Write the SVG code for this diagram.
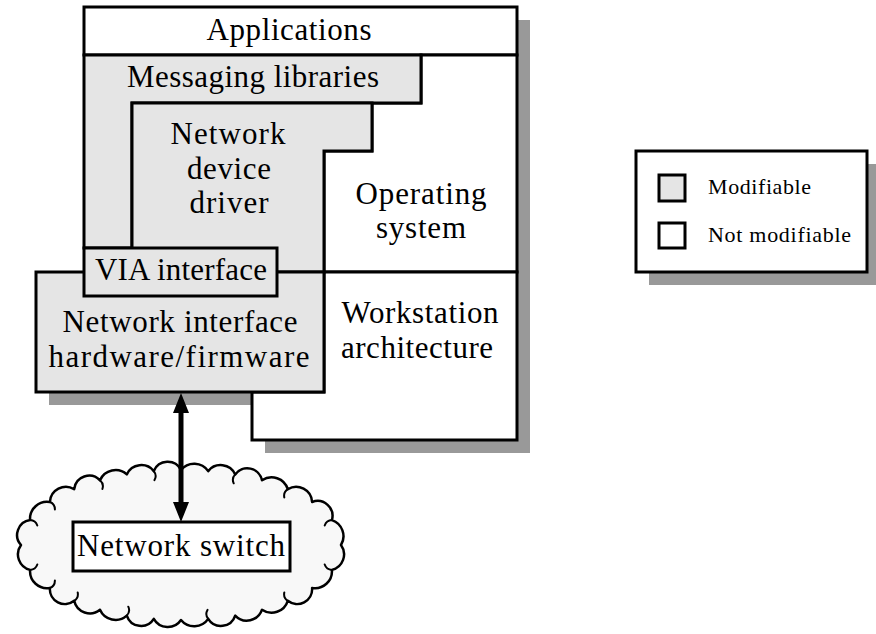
<svg xmlns="http://www.w3.org/2000/svg" width="876" height="634" viewBox="0 0 876 634">
  <style>
    .shadow { fill: #999999; stroke: none; }
    .fixed { fill: #ffffff; stroke: #000000; stroke-width: 3; stroke-linejoin: miter; }
    .mod { fill: #e5e5e5; stroke: #000000; stroke-width: 3; stroke-linejoin: miter; }
    .lbl { font-family: "Liberation Serif", "Times New Roman", serif; font-size: 31px; text-anchor: middle; fill: #000000; }
    .key { font-family: "Liberation Serif", "Times New Roman", serif; font-size: 22px; fill: #000000; }
    .link { stroke: #000000; stroke-width: 5; fill: none; }
    .cloud { fill: #f8f8f8; stroke: #000000; stroke-width: 2.5; stroke-linejoin: round; }
    .curl { fill: none; stroke: #000000; stroke-width: 2; stroke-linecap: round; }
  </style>
  <defs>
    <marker id="head" viewBox="0 0 20 16" refX="13" refY="8" markerWidth="20" markerHeight="16" markerUnits="userSpaceOnUse" orient="auto-start-reverse">
      <path d="M0,0 L20,8 L0,16 z" fill="#000000"/>
    </marker>
  </defs>

  <!-- drop shadow of the workstation stack -->
  <polygon class="shadow" points="97,20 530,20 530,453 265,453 265,405 49,405 49,285 97,285"/>

  <g id="applications">
    <rect class="fixed" x="84" y="7" width="433" height="48"/>
    <text class="lbl" x="289" y="40" textLength="165" lengthAdjust="spacing">Applications</text>
  </g>

  <g id="operating-system">
    <polygon class="fixed" points="421,55 517,55 517,272 324,272 324,151 372,151 372,103 421,103"/>
    <text class="lbl" x="421" y="204" textLength="131" lengthAdjust="spacing">Operating</text>
    <text class="lbl" x="421" y="238" textLength="90" lengthAdjust="spacing">system</text>
  </g>

  <g id="workstation-architecture">
    <polygon class="fixed" points="324,272 517,272 517,440 252,440 252,392 324,392"/>
    <text class="lbl" x="420" y="323" textLength="157" lengthAdjust="spacing">Workstation</text>
    <text class="lbl" x="417" y="358" textLength="152" lengthAdjust="spacing">architecture</text>
  </g>

  <g id="messaging-libraries">
    <polygon class="mod" points="84,55 421,55 421,103 132,103 132,248 84,248"/>
    <text class="lbl" x="253" y="87" textLength="252" lengthAdjust="spacing">Messaging libraries</text>
  </g>

  <g id="network-device-driver">
    <polygon class="mod" points="132,103 372,103 372,151 324,151 324,272 132,272"/>
    <text class="lbl" x="228" y="144" textLength="115" lengthAdjust="spacing">Network</text>
    <text class="lbl" x="229" y="179" textLength="84" lengthAdjust="spacing">device</text>
    <text class="lbl" x="229" y="213" textLength="79" lengthAdjust="spacing">driver</text>
  </g>

  <g id="network-interface">
    <rect class="mod" x="36" y="272" width="288" height="120"/>
    <text class="lbl" x="180" y="332" textLength="235" lengthAdjust="spacing">Network interface</text>
    <text class="lbl" x="179" y="367" textLength="261" lengthAdjust="spacing">hardware/firmware</text>
  </g>

  <g id="via-interface">
    <rect class="mod" x="84" y="248" width="193" height="48"/>
    <text class="lbl" x="181" y="280" textLength="172" lengthAdjust="spacing">VIA interface</text>
  </g>

  <g id="network-cloud">
    <path class="cloud" d="M341,545
      A16,16 0 0 1 331.9,569.9 A17,17 0 0 1 312.1,588.0 A15,15 0 0 1 287.8,600.8
      A17,17 0 0 1 262.0,609.7 A16,16 0 0 1 235.2,615.6 A15,15 0 0 1 208.2,618.9
      A17,17 0 0 1 181,620 A16,16 0 0 1 153.8,618.9 A15,15 0 0 1 126.8,615.6
      A17,17 0 0 1 100.0,609.7 A16,16 0 0 1 74.2,600.8 A15,15 0 0 1 49.9,588.0
      A17,17 0 0 1 30.1,569.9 A16,16 0 0 1 21,545 A15,15 0 0 1 30.1,520.1
      A17,17 0 0 1 49.9,502.0 A16,16 0 0 1 74.2,489.2 A15,15 0 0 1 100.0,480.3
      A17,17 0 0 1 126.8,474.4 A16,16 0 0 1 153.8,471.1 A15,15 0 0 1 181,470
      A17,17 0 0 1 208.2,471.1 A16,16 0 0 1 235.2,474.4 A15,15 0 0 1 262.0,480.3
      A17,17 0 0 1 287.8,489.2 A16,16 0 0 1 312.1,502.0 A15,15 0 0 1 331.9,520.1
      A17,17 0 0 1 341,545 Z"/>
    <!-- small curls along the cloud rim -->
    <path class="curl" d="M30.1,520.1 A8,8 0 0 1 37.3,525.5
      M49.9,502.0 A8,8 0 0 1 54.9,509.5
      M100.0,480.3 A8,8 0 0 1 102.4,489.0
      M153.8,471.1 A8,8 0 0 1 154.5,480.1
      M235.2,474.4 A8,8 0 0 0 233.7,483.3
      M287.8,489.2 A8,8 0 0 0 284.3,497.5
      M331.9,520.1 A8,8 0 0 0 324.7,525.5
      M331.9,569.9 A8,8 0 0 1 324.7,564.5
      M287.8,600.8 A8,8 0 0 1 284.3,592.5
      M208.2,618.9 A8,8 0 0 1 207.5,609.9
      M126.8,615.6 A8,8 0 0 0 128.3,606.7
      M74.2,600.8 A8,8 0 0 0 77.7,592.5
      M49.9,588.0 A8,8 0 0 0 54.9,580.5
      M30.1,569.9 A8,8 0 0 0 37.3,564.5"/>
  </g>

  <g id="network-switch">
    <rect class="fixed" x="73" y="522" width="217" height="49" stroke-width="2.5"/>
    <text class="lbl" x="181" y="556" textLength="208" lengthAdjust="spacing">Network switch</text>
  </g>

  <g id="connectors">
    <path class="link" d="M181,400 L181,515" marker-start="url(#head)" marker-end="url(#head)"/>
  </g>

  <g id="legend">
    <rect class="shadow" x="649" y="164" width="231" height="121"/>
    <rect class="fixed" x="636" y="151" width="231" height="121"/>
    <rect class="mod" x="659" y="175" width="26" height="26" stroke-width="2.5"/>
    <text class="key" x="708" y="194" textLength="103" lengthAdjust="spacing">Modifiable</text>
    <rect class="fixed" x="659" y="223" width="26" height="25" stroke-width="2.5"/>
    <text class="key" x="708" y="242" textLength="143" lengthAdjust="spacing">Not modifiable</text>
  </g>
</svg>
